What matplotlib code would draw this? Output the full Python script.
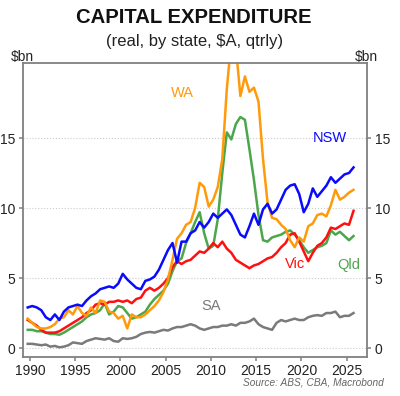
import matplotlib
matplotlib.use("Agg")
import matplotlib.pyplot as plt
import numpy as np

plt.rcParams['font.family'] = ['Liberation Sans', 'DejaVu Sans']

# half-yearly observations, 1989.75 .. 2025.75
dates = 1989.75 + 0.5 * np.arange(73)

nsw = [2.9, 3.0, 2.9, 2.7, 2.2, 2.0, 2.4, 2.0, 2.6, 2.9,
       3.0, 3.1, 3.0, 3.4, 3.7, 3.9, 4.2, 4.3, 4.4, 4.3,
       4.6, 5.3, 4.9, 4.6, 4.3, 4.2, 4.8, 4.9, 5.1, 5.6,
       6.3, 7.0, 7.5, 6.1, 7.6, 7.6, 8.2, 8.4, 9.0, 8.6,
       9.0, 9.6, 9.3, 9.6, 9.9, 9.5, 8.8, 8.1, 7.9, 8.7,
       9.6, 8.8, 9.9, 10.3, 9.6, 9.9, 10.6, 11.3, 11.6, 11.7,
       11.0, 9.7, 10.3, 11.4, 10.8, 11.2, 11.6, 12.2, 11.8, 12.1,
       12.4, 12.5, 12.9]

wa = [2.1, 1.8, 1.5, 1.4, 1.4, 1.5, 1.7, 2.1, 2.2, 2.7,
      2.4, 3.0, 2.5, 2.3, 2.9, 2.5, 3.4, 3.3, 2.6, 2.5,
      2.1, 2.3, 1.4, 2.4, 2.2, 2.2, 2.4, 2.7, 3.0, 3.4,
      4.0, 4.9, 6.3, 7.8, 8.2, 8.8, 9.0, 10.0, 11.8, 11.5,
      10.1, 10.6, 11.5, 13.5, 18.5, 22.0, 21.5, 18.0, 19.4, 18.3,
      18.6, 17.6, 13.5, 10.4, 9.3, 9.2, 8.8, 8.5, 7.7, 7.2,
      7.9, 7.6, 8.7, 8.9, 9.5, 9.6, 9.4, 10.2, 11.3, 10.6,
      10.8, 11.1, 11.3]

qld = [1.3, 1.3, 1.2, 1.2, 1.1, 1.0, 1.0, 0.95, 1.1, 1.3,
       1.5, 1.7, 1.9, 2.2, 2.4, 2.5, 2.7, 3.2, 2.4, 2.6,
       3.0, 2.9, 2.5, 2.1, 2.2, 2.4, 2.6, 3.1, 3.5, 3.8,
       4.1, 4.6, 5.5, 6.2, 6.4, 7.5, 8.2, 9.0, 9.7, 8.2,
       7.1, 7.3, 9.2, 12.5, 15.4, 14.9, 16.0, 16.5, 16.3, 14.2,
       12.0, 9.5, 7.7, 7.6, 7.9, 8.0, 8.1, 8.3, 8.4, 8.1,
       7.7, 7.2, 6.8, 7.0, 7.2, 7.3, 7.5, 8.4, 8.1, 8.3,
       8.0, 7.7, 8.0]

vic = [2.0, 1.8, 1.6, 1.3, 1.1, 1.1, 1.1, 1.2, 1.4, 1.6,
       1.8, 2.0, 2.2, 2.5, 2.7, 3.1, 3.2, 3.1, 3.3, 3.3,
       3.4, 3.3, 3.4, 3.2, 3.5, 3.6, 4.1, 4.3, 4.1, 4.3,
       4.6, 5.0, 5.8, 6.2, 6.0, 6.2, 6.3, 6.6, 6.9, 6.8,
       7.1, 7.5, 7.2, 7.6, 7.1, 6.8, 6.3, 6.1, 5.9, 5.7,
       5.9, 6.0, 6.2, 6.4, 6.5, 6.8, 7.2, 7.5, 8.1, 8.2,
       7.6, 6.9, 6.2, 6.8, 7.3, 7.5, 7.9, 8.6, 8.5, 8.7,
       8.9, 8.8, 9.8]

sa = [0.3, 0.3, 0.25, 0.2, 0.25, 0.1, 0.15, 0.05, 0.1, 0.2,
      0.4, 0.35, 0.3, 0.5, 0.6, 0.7, 0.65, 0.6, 0.7, 0.5,
      0.45, 0.7, 0.65, 0.7, 0.8, 1.0, 1.1, 1.15, 1.1, 1.2,
      1.3, 1.25, 1.4, 1.5, 1.5, 1.6, 1.7, 1.6, 1.4, 1.3,
      1.4, 1.5, 1.5, 1.6, 1.6, 1.7, 1.6, 1.8, 1.8, 1.9,
      2.1, 1.7, 1.5, 1.4, 1.3, 1.8, 2.0, 1.9, 2.0, 2.1,
      2.0, 2.0, 2.2, 2.3, 2.35, 2.3, 2.5, 2.5, 2.6, 2.2,
      2.3, 2.3, 2.5]

fig = plt.figure(figsize=(4.0, 3.96), dpi=100)
ax = fig.add_axes([0.0575, 0.0985, 0.86, 0.7425])

c_nsw = "#0a0aff"
c_wa = "#ff9a0a"
c_qld = "#4ca64c"
c_vic = "#ff1010"
c_sa = "#7a7a7a"

lw = 1.8
ax.plot(dates, sa, color=c_sa, lw=lw)
ax.plot(dates, qld, color=c_qld, lw=lw)
ax.plot(dates, vic, color=c_vic, lw=lw)
ax.plot(dates, wa, color=c_wa, lw=lw)
ax.plot(dates, nsw, color=c_nsw, lw=lw)

ax.set_xlim(1989.23, 2027.24)
ax.set_ylim(-0.64, 20.36)
ax.set_yticks([0, 5, 10, 15])
ax.set_xticks(range(1990, 2030, 5))
ax.grid(axis="y", color="#cccccc", ls=":", lw=0.8)

for s in ax.spines.values():
    s.set_color("#808080")
    s.set_linewidth(1.3)
ax.tick_params(axis="both", colors="#808080", labelcolor="#222222",
               labelsize=10, length=3, width=1.1)
ax.tick_params(axis="y", right=True, labelright=True, pad=2.5)
ax.tick_params(axis="x", pad=2)

lab_fs = 10.5
ax.text(2006.9, 18.2, "WA", color=c_wa, fontsize=lab_fs, ha="center", va="center")
ax.text(2023.1, 15.0, "NSW", color=c_nsw, fontsize=lab_fs, ha="center", va="center")
ax.text(2019.3, 6.0, "Vic", color=c_vic, fontsize=lab_fs, ha="center", va="center")
ax.text(2025.2, 5.9, "Qld", color=c_qld, fontsize=lab_fs, ha="center", va="center")
ax.text(2010.0, 3.0, "SA", color=c_sa, fontsize=lab_fs, ha="center", va="center")

fig.text(0.485, 0.957, "CAPITAL EXPENDITURE", fontsize=14.6, fontweight="bold",
         ha="center", va="center", color="#111111")
fig.text(0.487, 0.894, "(real, by state, $A, qtrly)", fontsize=12,
         ha="center", va="center", color="#222222")
fig.text(0.057, 0.856, "$bn", fontsize=10, ha="center", va="center", color="#222222")
fig.text(0.917, 0.856, "$bn", fontsize=10, ha="center", va="center", color="#222222")
fig.text(0.96, 0.033, "Source: ABS, CBA, Macrobond", fontsize=7.3, style="italic",
         ha="right", va="center", color="#666666")

fig.savefig("out.png", dpi=100)
